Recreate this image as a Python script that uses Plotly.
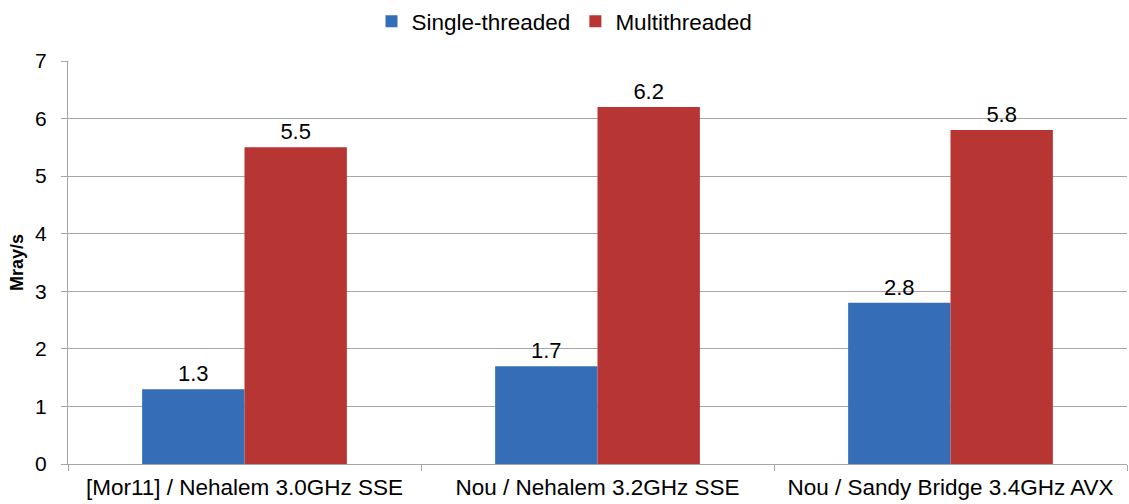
import plotly.graph_objects as go

categories = ["[Mor11] / Nehalem 3.0GHz SSE", "Nou / Nehalem 3.2GHz SSE", "Nou / Sandy Bridge 3.4GHz AVX"]
single_threaded = [1.3, 1.7, 2.8]
multithreaded = [5.5, 6.2, 5.8]
y_ticks = [0, 1, 2, 3, 4, 5, 6, 7]

FONT = "Liberation Sans, Arial, sans-serif"
FS = 21
FS_BIG = 22.5

fig = go.Figure()
fig.add_trace(go.Bar(
    name="Single-threaded", x=categories, y=single_threaded,
    marker=dict(color="#356EB6", line=dict(width=0)),
    text=[f"{v:.1f}" for v in single_threaded], textposition="outside",
    textfont=dict(size=22, color="#000000", family=FONT), cliponaxis=False,
))
fig.add_trace(go.Bar(
    name="Multithreaded", x=categories, y=multithreaded,
    marker=dict(color="#B73533", line=dict(width=0)),
    text=[f"{v:.1f}" for v in multithreaded], textposition="outside",
    textfont=dict(size=22, color="#000000", family=FONT), cliponaxis=False,
))

fig.update_layout(
    width=1129, height=504,
    margin=dict(l=68, r=2, t=61, b=40),
    paper_bgcolor="white", plot_bgcolor="white",
    barmode="group", bargap=0.42, bargroupgap=0,
    font=dict(family=FONT, size=FS, color="#000000"),
    legend=dict(orientation="h", x=0.5, xanchor="center", xref="container",
                y=1.0, yanchor="top", yref="container",
                font=dict(size=FS_BIG), itemwidth=30,
                traceorder="normal", itemclick=False),
    showlegend=True,
)
fig.update_xaxes(
    showline=True, linecolor="#A6A6A6", linewidth=1,
    ticks="outside", tickson="boundaries", ticklen=6, tickcolor="#A6A6A6",
    tickfont=dict(size=FS_BIG, family=FONT), showgrid=False, ticklabelstandoff=3,
)
fig.update_yaxes(
    range=[0, 7], tickvals=y_ticks, showgrid=True, gridcolor="#A6A6A6", gridwidth=1,
    showline=True, linecolor="#A6A6A6", linewidth=1,
    ticks="outside", ticklen=6, tickcolor="#A6A6A6", ticklabelstandoff=10,
    tickfont=dict(size=FS, family=FONT), zeroline=False,
    title=dict(text="<b>Mray/s</b>", font=dict(size=18, family=FONT), standoff=6),
)

fig.write_html("out.html", config={"displayModeBar": False},
               post_script="document.body.style.margin='0';")
